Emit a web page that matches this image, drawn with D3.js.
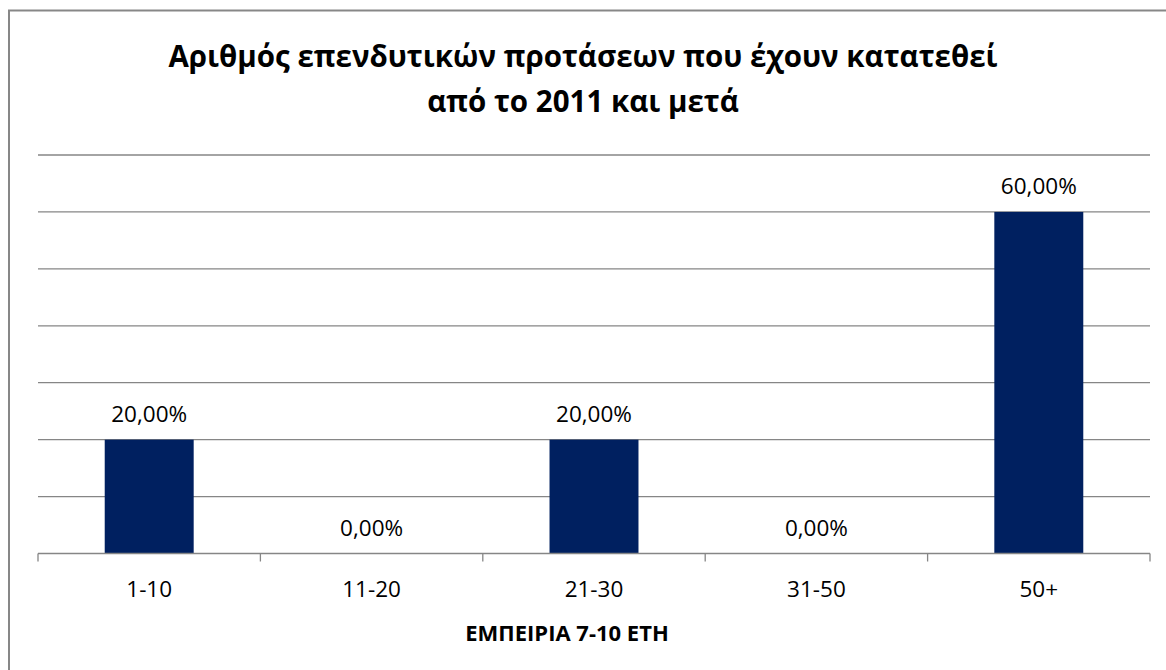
<!DOCTYPE html>
<html>
<head>
<meta charset="utf-8">
<script src="https://cdn.jsdelivr.net/npm/d3@7"></script>
<style>
  body { margin: 0; background: #fff; }
  text { font-family: "Open Sans", "Noto Sans", sans-serif; fill: #000; }
</style>
</head>
<body>
<script>
// data
const categories = ["1-10", "11-20", "21-30", "31-50", "50+"];
const values = [0.20, 0.00, 0.20, 0.00, 0.60];
const yTicks = [0, 0.1, 0.2, 0.3, 0.4, 0.5, 0.6, 0.7];
const titleLines = ["Αριθμός επενδυτικών προτάσεων που έχουν κατατεθεί", "από το 2011 και μετά"];
const xTitle = "ΕΜΠΕΙΡΙΑ 7-10 ΕΤΗ";

const W = 1166, H = 670;
const plotL = 38, plotR = 1150, plotT = 155, plotB = 553.5;

const svg = d3.select('body').append('svg')
  .attr('width', W)
  .attr('height', H);

// outer frame (runs off the right and bottom edges)
svg.append('rect')
  .attr('x', 9).attr('y', 10.5)
  .attr('width', 1170).attr('height', 680)
  .attr('fill', 'none')
  .attr('stroke', '#878787')
  .attr('stroke-width', 2);

const x = d3.scaleBand()
  .domain(categories)
  .range([plotL, plotR])
  .paddingInner(0.6)
  .paddingOuter(0.3);

const y = d3.scaleLinear()
  .domain([0, 0.7])
  .range([plotB, plotT]);

// gridlines
svg.append('g')
  .selectAll('line')
  .data(yTicks.slice(1))
  .enter()
  .append('line')
  .attr('x1', plotL).attr('x2', plotR)
  .attr('y1', d => y(d)).attr('y2', d => y(d))
  .attr('stroke', '#868686')
  .attr('stroke-width', 1.3);

// bars
svg.append('g')
  .selectAll('rect')
  .data(values)
  .enter()
  .append('rect')
  .attr('x', (d, i) => x(categories[i]))
  .attr('y', d => y(d))
  .attr('width', x.bandwidth())
  .attr('height', d => y(0) - y(d))
  .attr('fill', '#002060');

// value labels
const fmt = d => (d * 100).toFixed(2).replace('.', ',') + '%';
svg.append('g')
  .selectAll('text')
  .data(values)
  .enter()
  .append('text')
  .attr('x', (d, i) => x(categories[i]) + x.bandwidth() / 2)
  .attr('y', d => y(d) - 18)
  .attr('text-anchor', 'middle')
  .attr('font-size', 22.5)
  .text(d => fmt(d));

// x axis: baseline + ticks at category boundaries
const step = x.step();
const bounds = d3.range(categories.length + 1).map(i => plotL + i * step);
const axis = svg.append('g');
axis.append('line')
  .attr('x1', plotL).attr('x2', plotR)
  .attr('y1', plotB).attr('y2', plotB)
  .attr('stroke', '#868686')
  .attr('stroke-width', 1.3);
axis.selectAll('.tick')
  .data(bounds)
  .enter()
  .append('line')
  .attr('class', 'tick')
  .attr('x1', d => d).attr('x2', d => d)
  .attr('y1', plotB).attr('y2', plotB + 8)
  .attr('stroke', '#868686')
  .attr('stroke-width', 1.3);
axis.selectAll('.lbl')
  .data(categories)
  .enter()
  .append('text')
  .attr('class', 'lbl')
  .attr('x', d => x(d) + x.bandwidth() / 2)
  .attr('y', 597)
  .attr('text-anchor', 'middle')
  .attr('font-size', 22.5)
  .text(d => d);

// axis title
svg.append('text')
  .attr('x', 567)
  .attr('y', 641)
  .attr('text-anchor', 'middle')
  .attr('font-size', 22)
  .attr('font-weight', 'bold')
  .text(xTitle);

// chart title
svg.append('g')
  .selectAll('text')
  .data(titleLines)
  .enter()
  .append('text')
  .attr('x', 583)
  .attr('y', (d, i) => 67 + i * 44.5)
  .attr('text-anchor', 'middle')
  .attr('font-size', 29.5)
  .attr('font-weight', 'bold')
  .text(d => d);
</script>
</body>
</html>
